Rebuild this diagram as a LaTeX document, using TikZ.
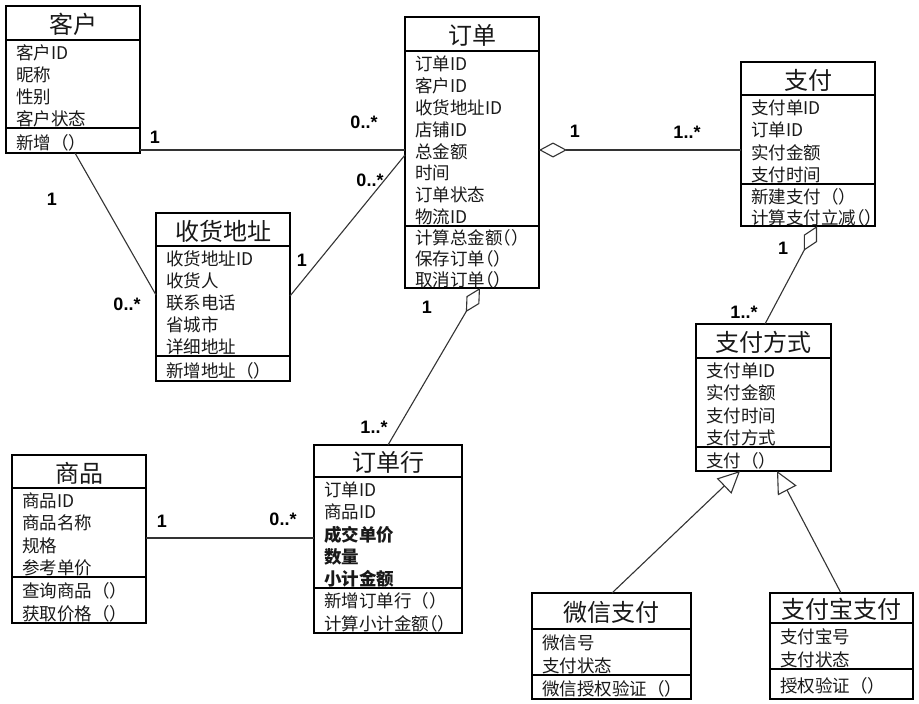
\documentclass[tikz,border=0pt]{standalone}
\usepackage{fontspec}
\setmainfont{Noto Sans CJK SC}
\newfontfamily\labfont{Liberation Sans}
\usetikzlibrary{arrows.meta}
\tikzset{
  box/.style={draw=black, line width=1.6pt, anchor=north west, inner sep=0pt, outer sep=0pt},
  divider/.style={draw=black, line width=1.6pt},
  titletext/.style={font=\fontsize{24}{28}\selectfont, inner sep=0pt, anchor=base, text=black!90},
  rowtext/.style={font=\fontsize{17.5}{20}\selectfont, inner sep=0pt, anchor=base west, text=black!90},
  mult/.style={font=\labfont\bfseries\fontsize{18}{20}\selectfont, inner sep=0pt, anchor=base},
  conn/.style={draw=black!80, line width=1.1pt},
  aggr/.style={conn, {Diamond[open, length=28pt, width=15pt, line width=1.1pt]}-},
  gen/.style={conn, -{Triangle[open, length=22pt, width=21pt, line width=1.1pt]}},
}
\newcommand\umlclass[7]{%
  \node[box, minimum width=\fpeval{#4-#2}pt, minimum height=\fpeval{#5-#3}pt] (#1) at (#2,#3) {};
  \draw[divider] (#2,#6) -- (#4,#6);
  \draw[divider] (#2,#7) -- (#4,#7);
}
\newcommand\umltitle[6]{%
  \node[titletext] (#1) at ({(#2+#3)/2},{(#4+#5)/2+10.5}) {#6};
}
\newcommand\umlrows[5]{%
  \foreach \t [count=\i] in {#5} {\node[rowtext] (#1\i) at (#2,{#3+#4*(\i-0.5)+8.6}) {\t};}
}
\newcommand\hp{{\addfontfeature{RawFeature=+halt}（）}}
\begin{document}
\begin{tikzpicture}[x=1pt,y=-1pt]
\path[fill=white] (0,0) rectangle (919,704);
\useasboundingbox (0,0) rectangle (919,704);

% 客户
\umlclass{kehu}{6}{6}{140}{153}{40}{128}
\umltitle{kehut}{6}{140}{6}{40}{客户}
\umlrows{kehua}{16}{40}{22}{客户ID,昵称,性别,客户状态}
\umlrows{kehum}{16}{128}{25}{新增（）}

% 订单
\umlclass{dingdan}{405}{17}{539}{288}{51}{226}
\umltitle{dingdant}{405}{539}{17}{51}{订单}
\umlrows{dingdana}{415}{51}{21.875}{订单ID,客户ID,收货地址ID,店铺ID,总金额,时间,订单状态,物流ID}
\umlrows{dingdanm}{415}{226}{20.67}{计算总金额\hp,保存订单\hp,取消订单\hp}

% 支付
\umlclass{zhifu}{741}{62}{875}{226}{95}{184}
\umltitle{zhifut}{741}{875}{62}{95}{支付}
\umlrows{zhifua}{751}{95}{22.25}{支付单ID,订单ID,实付金额,支付时间}
\umlrows{zhifum}{751}{184}{21}{新建支付（）,计算支付立减\hp}

% 收货地址
\umlclass{shouhuo}{156}{213}{290}{381}{246}{356}
\umltitle{shouhuot}{156}{290}{213}{246}{收货地址}
\umlrows{shouhuoa}{166}{246}{22}{收货地址ID,收货人,联系电话,省城市,详细地址}
\umlrows{shouhuom}{166}{356}{25}{新增地址（）}

% 商品
\umlclass{shangpin}{12}{455}{146}{623}{488}{577}
\umltitle{shangpint}{12}{146}{455}{488}{商品}
\umlrows{shangpina}{22}{488}{22.25}{商品ID,商品名称,规格,参考单价}
\umlrows{shangpinm}{22}{577}{23}{查询商品（）,获取价格（）}

% 订单行
\umlclass{hang}{314}{445}{462}{633}{477}{588}
\umltitle{hangt}{314}{462}{445}{477}{订单行}
\umlrows{hanga}{324}{477}{22.2}{订单ID,商品ID,{\bfseries 成交单价},{\bfseries 数量},{\bfseries 小计金额}}
\umlrows{hangm}{324}{588}{22.5}{新增订单行（）,计算小计金额\hp}

% 支付方式
\umlclass{fangshi}{696}{324}{831}{471}{358}{447}
\umltitle{fangshit}{696}{831}{324}{358}{支付方式}
\umlrows{fangshia}{706}{358}{22.25}{支付单ID,实付金额,支付时间,支付方式}
\umlrows{fangshim}{706}{447}{24}{支付（）}

% 微信支付
\umlclass{weixin}{532}{593}{691}{699}{629}{675}
\umltitle{weixint}{532}{691}{593}{629}{微信支付}
\umlrows{weixina}{542}{629}{23}{微信号,支付状态}
\umlrows{weixinm}{542}{675}{24}{微信授权验证（）}

% 支付宝支付
\umlclass{zfb}{770}{593}{913}{699}{623}{669}
\umltitle{zfbt}{770}{913}{593}{623}{支付宝支付}
\umlrows{zfba}{780}{623}{23}{支付宝号,支付状态}
\umlrows{zfbm}{780}{669}{30}{授权验证（）}

% connectors
\draw[conn] ([shift={(0,-3)}]kehu.south east) -- ([shift={(0,133)}]dingdan.north west);
\draw[conn] ([shift={(69,0)}]kehu.south west) -- ([shift={(0,82)}]shouhuo.north west);
\draw[conn] ([shift={(0,83)}]shouhuo.north east) -- ([shift={(0,138)}]dingdan.north west);
\draw[aggr] ([shift={(0,133)}]dingdan.north east) -- ([shift={(0,88)}]zhifu.north west);
\draw[aggr] ([shift={(76,0)}]zhifu.south west) -- ([shift={(69,0)}]fangshi.north west);
\draw[aggr] ([shift={(75,0)}]dingdan.south west) -- ([shift={(74,0)}]hang.north west);
\draw[conn] ([shift={(0,83)}]shangpin.north east) -- ([shift={(0,93)}]hang.north west);
\draw[gen] ([shift={(80,0)}]weixin.north west) -- ([shift={(44,0)}]fangshi.south west);
\draw[gen] ([shift={(71,0)}]zfb.north west) -- ([shift={(81,0)}]fangshi.south west);

% multiplicities
\node[mult] (m1) at (155,143) {1};
\node[mult] (m2) at (364,128) {0..*};
\node[mult] (m3) at (52,205) {1};
\node[mult] (m4) at (127,310) {0..*};
\node[mult] (m5) at (302,266) {1};
\node[mult] (m6) at (370,186) {0..*};
\node[mult] (m7) at (575,137) {1};
\node[mult] (m8) at (687,138) {1..*};
\node[mult] (m9) at (783,254) {1};
\node[mult] (m10) at (744,318) {1..*};
\node[mult] (m11) at (427,313) {1};
\node[mult] (m12) at (374,433) {1..*};
\node[mult] (m13) at (162,527) {1};
\node[mult] (m14) at (283,525) {0..*};
\end{tikzpicture}
\end{document}
